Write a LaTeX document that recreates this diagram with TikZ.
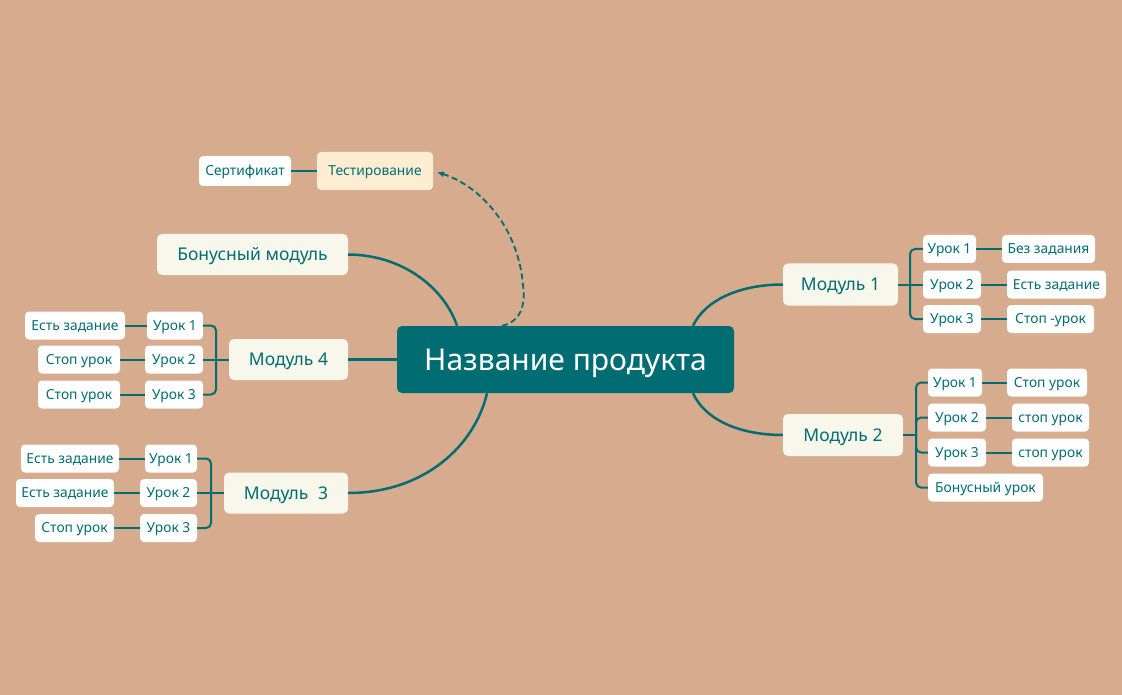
\documentclass[tikz,border=0pt]{standalone}
\usepackage{fontspec}
\setmainfont{Noto Sans}
\usetikzlibrary{arrows.meta}
\definecolor{bgsand}{HTML}{D6AB8E}
\definecolor{mapteal}{HTML}{006D73}
\definecolor{modfill}{HTML}{F8F7EC}
\definecolor{testfill}{HTML}{FEEDD3}
\tikzset{
  root/.style={fill=mapteal, text=white, rounded corners=5pt, inner sep=0pt,
    text height=21.5pt, text depth=0pt,
    minimum width=337pt, minimum height=67pt, font=\fontsize{30}{34}\selectfont},
  module/.style={fill=modfill, text=mapteal, rounded corners=5pt, inner sep=0pt,
    text height=12.5pt, text depth=0pt,
    minimum height=41pt, font=\fontsize{17.5}{20}\selectfont},
  lesson/.style={fill=white, text=mapteal, rounded corners=4pt, inner sep=0pt,
    text height=9.9pt, text depth=0pt,
    minimum height=28pt, font=\fontsize{13.8}{16}\selectfont},
  branch/.style={draw=mapteal, line width=2.5pt},
  twig/.style={draw=mapteal, line width=2pt, rounded corners=5pt},
}
\begin{document}
\begin{tikzpicture}[x=1pt,y=-1pt]
            \useasboundingbox (0,0) rectangle (1122,695);
            \fill[bgsand] (0,0) rectangle (1122,695);
            % Main nodes
            \node[root] (root) at (565.5,359.5) {Название продукта};
            \node[module, minimum width=191pt] (bonus) at (252.5,254.5) {Бонусный модуль};
            \node[module, minimum width=119pt] (m4) at (288.5,359.5) {Модуль 4};
            \node[module, minimum width=124pt] (m3) at (286,493) {Модуль\hspace{0.55em}3};
            \node[module, minimum width=115pt, minimum height=42pt] (m1) at (840.5,284.5) {Модуль 1};
            \node[module, minimum width=120pt, minimum height=42pt] (m2) at (843,435) {Модуль 2};
            \node[lesson, fill=testfill, minimum width=116pt, minimum height=38pt] (test) at (375,171) {Тестирование};
            \node[lesson, minimum width=92pt, minimum height=30pt] (cert) at (245,171) {Сертификат};
            % Module 4
            \node[lesson, minimum width=56pt] (m4l1) at (175,325.5) {Урок 1};
            \node[lesson, minimum width=58pt] (m4l2) at (174,359.5) {Урок 2};
            \node[lesson, minimum width=58pt] (m4l3) at (174,394.5) {Урок 3};
            \node[lesson, minimum width=100pt] (m4e1) at (75,325.5) {Есть задание};
            \node[lesson, minimum width=82pt] (m4e2) at (79,359.5) {Стоп урок};
            \node[lesson, minimum width=82pt] (m4e3) at (79,394.5) {Стоп урок};
            % Module 3
            \node[lesson, minimum width=52pt] (m3l1) at (171,458.5) {Урок 1};
            \node[lesson, minimum width=57pt] (m3l2) at (168.5,493) {Урок 2};
            \node[lesson, minimum width=57pt] (m3l3) at (168.5,528) {Урок 3};
            \node[lesson, minimum width=98pt] (m3e1) at (70,458.5) {Есть задание};
            \node[lesson, minimum width=98pt] (m3e2) at (65,493) {Есть задание};
            \node[lesson, minimum width=79pt] (m3e3) at (74.5,528) {Стоп урок};
            % Module 1
            \node[lesson, minimum width=53pt] (m1l1) at (949.5,249) {Урок 1};
            \node[lesson, minimum width=58pt] (m1l2) at (952,284.5) {Урок 2};
            \node[lesson, minimum width=58pt] (m1l3) at (952,319) {Урок 3};
            \node[lesson, minimum width=93pt] (m1e1) at (1048.5,249) {Без задания};
            \node[lesson, minimum width=99pt] (m1e2) at (1056.5,284.5) {Есть задание};
            \node[lesson, minimum width=87pt] (m1e3) at (1050.5,319) {Стоп -урок};
            % Module 2
            \node[lesson, minimum width=54pt] (m2l1) at (955,382.5) {Урок 1};
            \node[lesson, minimum width=58pt] (m2l2) at (957,417.5) {Урок 2};
            \node[lesson, minimum width=58pt] (m2l3) at (957,452.5) {Урок 3};
            \node[lesson, minimum width=115pt] (m2l4) at (985.5,487.5) {Бонусный урок};
            \node[lesson, minimum width=80pt] (m2e1) at (1047,382.5) {Стоп урок};
            \node[lesson, minimum width=77pt] (m2e2) at (1050.5,417.5) {стоп урок};
            \node[lesson, minimum width=77pt] (m2e3) at (1050.5,452.5) {стоп урок};
            % Coordinates
            \coordinate (rnw) at ([xshift=-108.5pt]root.north);
            \coordinate (rsw) at ([xshift=-78.5pt]root.south);
            \coordinate (rne) at ([xshift=127.5pt]root.north);
            \coordinate (rse) at ([xshift=127.5pt]root.south);
            \coordinate (rtop) at ([xshift=-63.5pt]root.north);
            \coordinate (j4) at (216,359.5);
            \coordinate (j3) at (211,493);
            \coordinate (j1) at (910,284.5);
            \coordinate (j2) at (916,435);
            % draw main branches
            \draw[branch] (rnw) .. controls (445,290) and (405,255) .. (bonus.east);
            \draw[branch] (root.west) -- (m4.east);
            \draw[branch] (rsw) .. controls (475,445) and (425,493) .. (m3.east);
            \draw[branch] (rne) .. controls (705,300) and (740,284.5) .. (m1.west);
            \draw[branch] (rse) .. controls (705,420) and (740,435) .. (m2.west);
            \draw[mapteal, line width=1.8pt, dash pattern=on 6pt off 3.5pt, shorten >=4pt,
              -{Latex[length=7pt,width=6pt]}]
              (rtop) .. controls (520,322) and (526,306) .. (523,285)
              .. controls (518,225) and (478,185) .. (test.east);
            \draw[twig] (cert) -- (test);
            % Module 4 lessons
            \draw[twig] (m4l1.east) -| (j4) |- (m4l3.east);
            \draw[twig] (m4l2.east) -- (m4.west);
            \draw[twig] (m4e1) -- (m4l1);
            \draw[twig] (m4e2) -- (m4l2);
            \draw[twig] (m4e3) -- (m4l3);
            % Module 3 lessons
            \draw[twig] (m3l1.east) -| (j3) |- (m3l3.east);
            \draw[twig] (m3l2.east) -- (m3.west);
            \draw[twig] (m3e1) -- (m3l1);
            \draw[twig] (m3e2) -- (m3l2);
            \draw[twig] (m3e3) -- (m3l3);
            % Module 1 lessons
            \draw[twig] (m1l1.west) -| (j1) |- (m1l3.west);
            \draw[twig] (m1.east) -- (m1l2.west);
            \draw[twig] (m1l1) -- (m1e1);
            \draw[twig] (m1l2) -- (m1e2);
            \draw[twig] (m1l3) -- (m1e3);
            % Module 2 lessons
            \draw[twig] (m2.east) -- (j2);
            \draw[twig] (j2) |- (m2l1.west);
            \draw[twig] (j2) |- (m2l2.west);
            \draw[twig] (j2) |- (m2l3.west);
            \draw[twig] (j2) |- (m2l4.west);
            \draw[twig] (m2l1) -- (m2e1);
            \draw[twig] (m2l2) -- (m2e2);
            \draw[twig] (m2l3) -- (m2e3);
        \end{tikzpicture}
\end{document}
